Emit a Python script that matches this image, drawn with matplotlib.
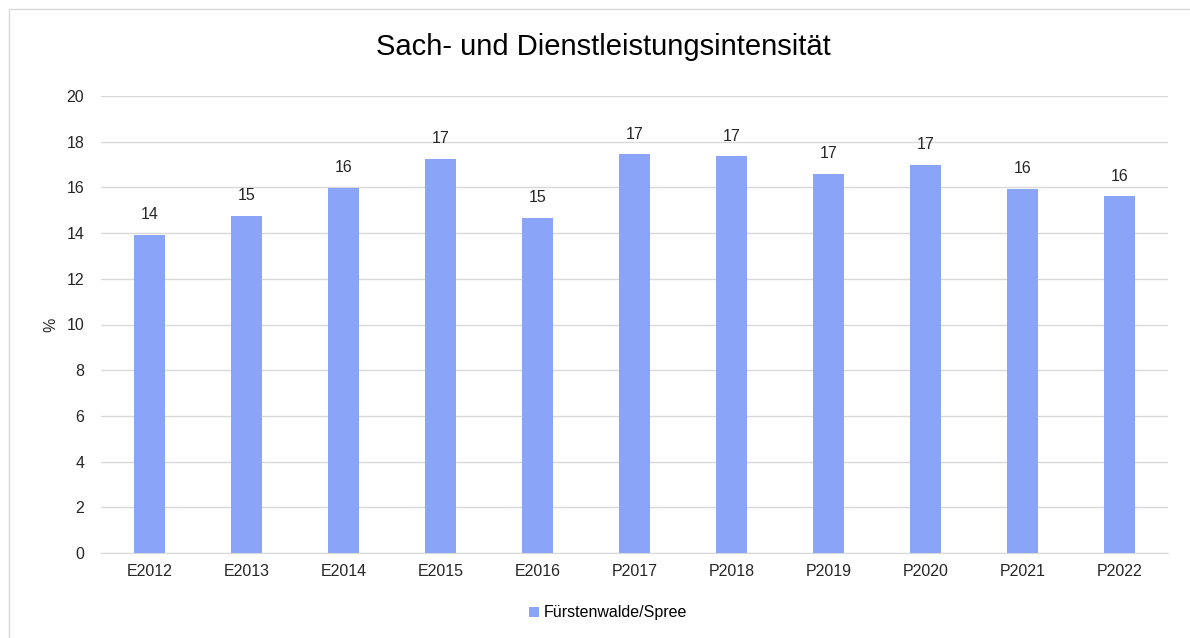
import matplotlib
matplotlib.use("Agg")
from matplotlib import pyplot as plt
from matplotlib.patches import Rectangle

plt.rcParams["font.family"] = ["Liberation Sans", "DejaVu Sans"]

categories = ["E2012", "E2013", "E2014", "E2015", "E2016", "P2017",
              "P2018", "P2019", "P2020", "P2021", "P2022"]
values = [13.93, 14.76, 15.98, 17.24, 14.68, 17.45, 17.36, 16.59, 17.0, 15.93, 15.62]
series_name = "Fürstenwalde/Spree"

W, H = 1190, 638
fig = plt.figure(figsize=(W / 100, H / 100), dpi=100)

# light border around the chart area
fig.patches.append(Rectangle((9 / W, -0.05), 1.2, 1 - 9 / H + 0.05,
                             transform=fig.transFigure, fill=False,
                             edgecolor="#D9D9D9", linewidth=1))

ax = fig.add_axes([101 / W, 1 - 553 / H, (1168 - 101) / W, (553 - 96) / H])
x = range(len(categories))
bars = ax.bar(x, values, width=0.31, color="#8AA4F8", label=series_name, zorder=3)

for xi, v in zip(x, values):
    ax.text(xi, v + 0.55, f"{v:.0f}", ha="center", va="bottom", fontsize=11.5, color="#262626")

ax.set_xlim(-0.5, len(categories) - 0.5)
ax.set_ylim(0, 20)
ax.set_yticks(range(0, 21, 2))
ax.set_xticks(list(x))
ax.set_xticklabels(categories)
ax.tick_params(axis="both", length=0, labelsize=11.5, colors="#262626")
ax.tick_params(axis="y", pad=12)
ax.tick_params(axis="x", pad=8)
ax.grid(axis="y", color="#D9D9D9", linewidth=1, zorder=0)
for s in ["top", "right", "left"]:
    ax.spines[s].set_visible(False)
ax.spines["bottom"].set_color("#D9D9D9")

ax.set_ylabel("%", fontsize=11.5, color="#262626", labelpad=6)
fig.text(603 / W, 1 - 47 / H, "Sach- und Dienstleistungsintensität", ha="center", va="center",
         fontsize=21, color="#000000")

fig.legend(handles=[bars], labels=[series_name], loc="center", bbox_to_anchor=(608 / W, 1 - 613 / H),
           frameon=False, fontsize=11.5, handlelength=0.6, handleheight=0.6, handletextpad=0.3)

fig.savefig("out.png", dpi=100)
